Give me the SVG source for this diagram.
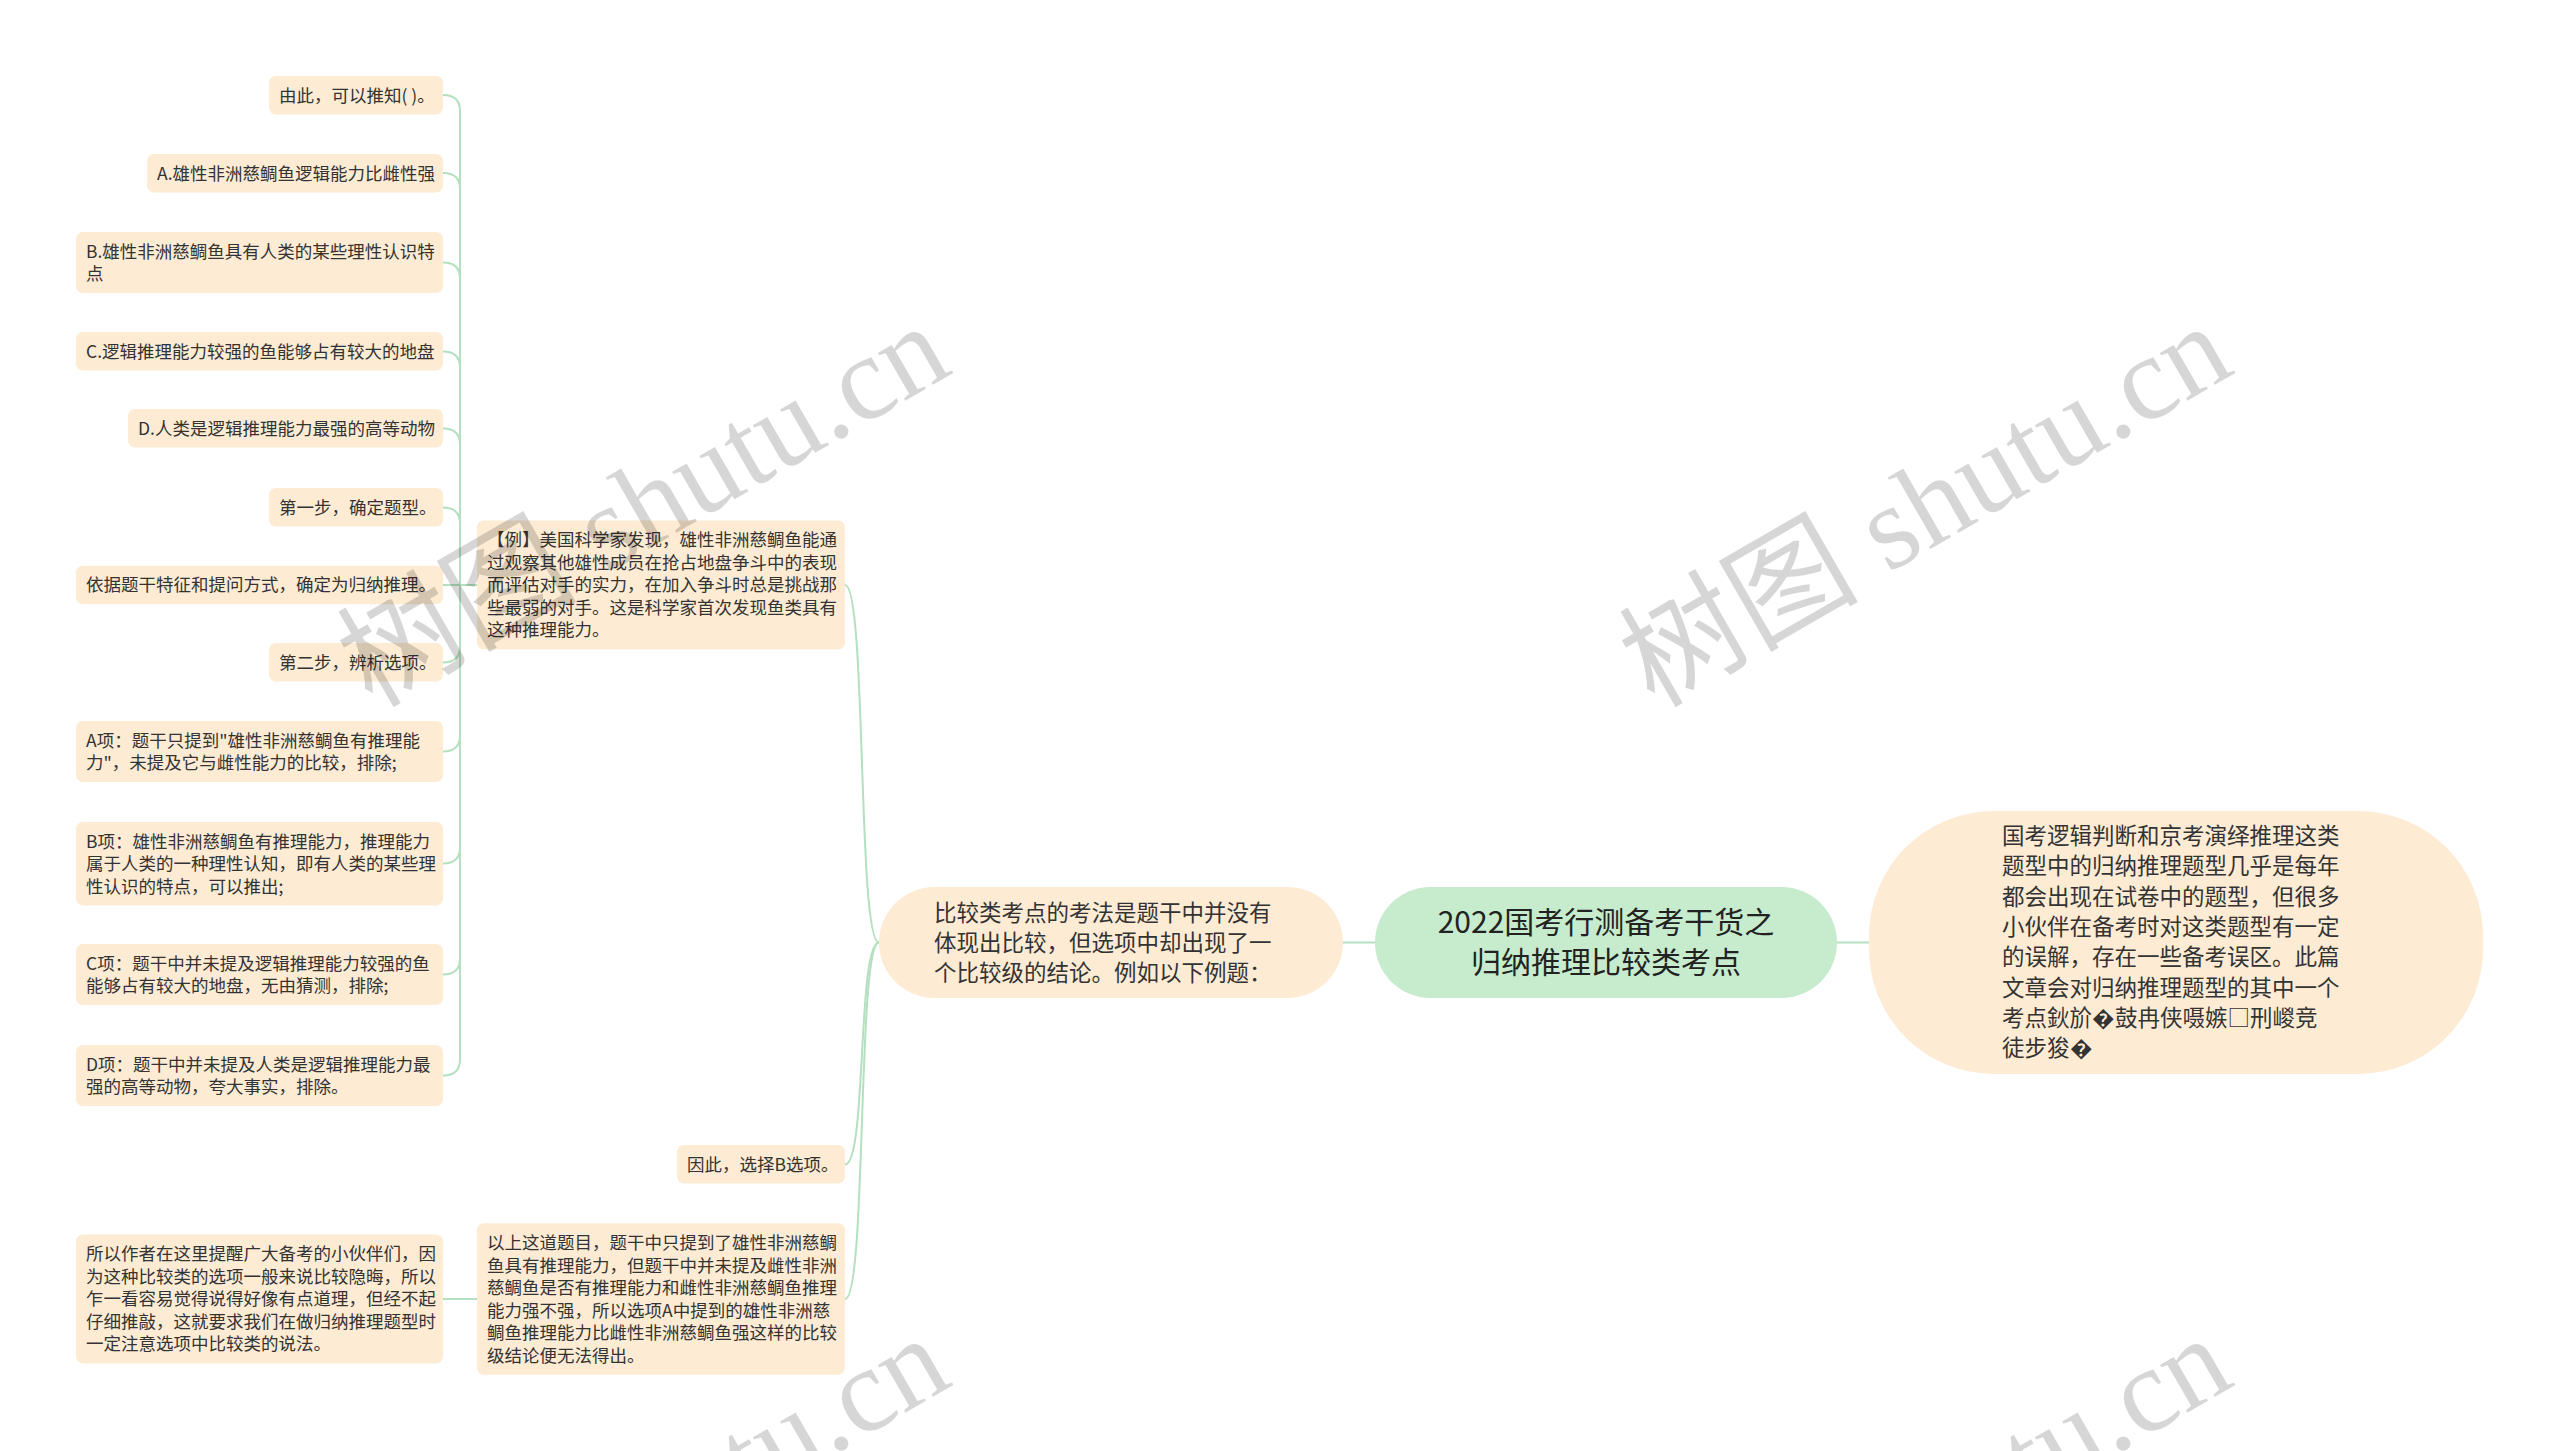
<svg xmlns="http://www.w3.org/2000/svg" width="2560" height="1451" viewBox="0 0 2560 1451">
<style>
text{font-family:"Noto Sans CJK SC","Liberation Sans",sans-serif;fill:#333}
.s{font-size:17.5px}
.m{font-size:22.5px}
.r{font-size:30px;fill:#222}
.box{fill:#fdebd3}
.root{fill:#c6ebcd}
.c{fill:none;stroke:#b4e0bf;stroke-width:2}
.wm{font-family:"Liberation Serif","Noto Sans CJK SC",serif;font-size:120px;fill:#000;fill-opacity:.16}
</style>
<rect width="2560" height="1451" fill="#fff"/>
<g id="connectors">
<path class="c" d="M477 585H460V111Q460 95 443 95"/>
<path class="c" d="M477 585H460V189Q460 173 443 173"/>
<path class="c" d="M477 585H460V278.5Q460 262.5 443 262.5"/>
<path class="c" d="M477 585H460V367.5Q460 351.5 443 351.5"/>
<path class="c" d="M477 585H460V444.5Q460 428.5 443 428.5"/>
<path class="c" d="M477 585H460V523.5Q460 507.5 443 507.5"/>
<path class="c" d="M477 585H443"/>
<path class="c" d="M477 585H460V646.5Q460 662.5 443 662.5"/>
<path class="c" d="M477 585H460V735.5Q460 751.5 443 751.5"/>
<path class="c" d="M477 585H460V847.5Q460 863.5 443 863.5"/>
<path class="c" d="M477 585H460V958.5Q460 974.5 443 974.5"/>
<path class="c" d="M477 585H460V1059.5Q460 1075.5 443 1075.5"/>
<path class="c" d="M477 1299H443"/>
<path class="c" d="M879 942.5C857 942.5 867 585 845 585"/>
<path class="c" d="M879 942.5C857 942.5 867 1164.5 845 1164.5"/>
<path class="c" d="M879 942.5C857 942.5 867 1299 845 1299"/>
<path class="c" d="M1375 942.5H1343"/>
<path class="c" d="M1837 942.5H1869"/>
</g>
<g id="root">
<rect class="root" x="1375" y="887" width="462" height="111" rx="55.5"/>
<text class="r" text-anchor="middle"><tspan x="1606" y="933.3">2022国考行测备考干货之</tspan><tspan x="1606" y="973.3">归纳推理比较类考点</tspan></text>
</g>
<g id="intro">
<rect class="box" x="1869" y="811" width="614" height="263" rx="125"/>
<text class="m"><tspan x="2002" y="844">国考逻辑判断和京考演绎推理这类</tspan><tspan x="2002" y="874.3">题型中的归纳推理题型几乎是每年</tspan><tspan x="2002" y="904.6">都会出现在试卷中的题型，但很多</tspan><tspan x="2002" y="934.9">小伙伴在备考时对这类题型有一定</tspan><tspan x="2002" y="965.2">的误解，存在一些备考误区。此篇</tspan><tspan x="2002" y="995.5">文章会对归纳推理题型的其中一个</tspan><tspan x="2002" y="1025.8">考点鈥斺�鼓冉侠嗫嫉□刑嵕竞</tspan><tspan x="2002" y="1056.1">徒步狻�</tspan></text>
</g>
<g id="branch">
<rect class="box" x="879" y="887" width="464" height="111" rx="55.5"/>
<text class="m"><tspan x="934" y="920.6">比较类考点的考法是题干中并没有</tspan><tspan x="934" y="950.6">体现出比较，但选项中却出现了一</tspan><tspan x="934" y="980.6">个比较级的结论。例如以下例题：</tspan></text>
</g>
<g id="example">
<rect class="box" x="477" y="520.5" width="368" height="129" rx="7"/>
<text class="s"><tspan x="487" y="546.3">【例】美国科学家发现，雄性非洲慈鲷鱼能通</tspan><tspan x="487" y="568.8">过观察其他雄性成员在抢占地盘争斗中的表现</tspan><tspan x="487" y="591.3">而评估对手的实力，在加入争斗时总是挑战那</tspan><tspan x="487" y="613.8">些最弱的对手。这是科学家首次发现鱼类具有</tspan><tspan x="487" y="636.3">这种推理能力。</tspan></text>
</g>
<g id="answer">
<rect class="box" x="677" y="1145" width="168" height="38.5" rx="7"/>
<text class="s" x="687" y="1170.5">因此，选择B选项。</text>
</g>
<g id="analysis">
<rect class="box" x="477" y="1223.25" width="368" height="151.5" rx="7"/>
<text class="s"><tspan x="487" y="1249">以上这道题目，题干中只提到了雄性非洲慈鲷</tspan><tspan x="487" y="1271.5">鱼具有推理能力，但题干中并未提及雌性非洲</tspan><tspan x="487" y="1294">慈鲷鱼是否有推理能力和雌性非洲慈鲷鱼推理</tspan><tspan x="487" y="1316.5">能力强不强，所以选项A中提到的雄性非洲慈</tspan><tspan x="487" y="1339">鲷鱼推理能力比雌性非洲慈鲷鱼强这样的比较</tspan><tspan x="487" y="1361.5">级结论便无法得出。</tspan></text>
</g>
<g id="leaf1">
<rect class="box" x="269" y="76" width="174" height="38.5" rx="7"/>
<text class="s" x="279" y="101.5">由此，可以推知( )。</text>
</g>
<g id="leaf2">
<rect class="box" x="147" y="154" width="296" height="38.5" rx="7"/>
<text class="s" x="157" y="179.5">A.雄性非洲慈鲷鱼逻辑能力比雌性强</text>
</g>
<g id="leaf3">
<rect class="box" x="76" y="232" width="367" height="61" rx="7"/>
<text class="s"><tspan x="86" y="257.5">B.雄性非洲慈鲷鱼具有人类的某些理性认识特</tspan><tspan x="86" y="280">点</tspan></text>
</g>
<g id="leaf4">
<rect class="box" x="76" y="332" width="367" height="38.5" rx="7"/>
<text class="s" x="86" y="357.5">C.逻辑推理能力较强的鱼能够占有较大的地盘</text>
</g>
<g id="leaf5">
<rect class="box" x="128" y="409" width="315" height="38.5" rx="7"/>
<text class="s" x="138" y="434.5">D.人类是逻辑推理能力最强的高等动物</text>
</g>
<g id="leaf6">
<rect class="box" x="269" y="488" width="174" height="38.5" rx="7"/>
<text class="s" x="279" y="513.5">第一步，确定题型。</text>
</g>
<g id="leaf7">
<rect class="box" x="76" y="565.75" width="367" height="38.5" rx="7"/>
<text class="s" x="86" y="591.3">依据题干特征和提问方式，确定为归纳推理。</text>
</g>
<g id="leaf8">
<rect class="box" x="269" y="643" width="174" height="38.5" rx="7"/>
<text class="s" x="279" y="668.5">第二步，辨析选项。</text>
</g>
<g id="leaf9">
<rect class="box" x="76" y="721" width="367" height="61" rx="7"/>
<text class="s"><tspan x="86" y="746.5">A项：题干只提到"雄性非洲慈鲷鱼有推理能</tspan><tspan x="86" y="769">力"，未提及它与雌性能力的比较，排除;</tspan></text>
</g>
<g id="leaf10">
<rect class="box" x="76" y="822" width="367" height="83.5" rx="7"/>
<text class="s"><tspan x="86" y="847.5">B项：雄性非洲慈鲷鱼有推理能力，推理能力</tspan><tspan x="86" y="870">属于人类的一种理性认知，即有人类的某些理</tspan><tspan x="86" y="892.5">性认识的特点，可以推出;</tspan></text>
</g>
<g id="leaf11">
<rect class="box" x="76" y="944" width="367" height="61" rx="7"/>
<text class="s"><tspan x="86" y="969.5">C项：题干中并未提及逻辑推理能力较强的鱼</tspan><tspan x="86" y="992">能够占有较大的地盘，无由猜测，排除;</tspan></text>
</g>
<g id="leaf12">
<rect class="box" x="76" y="1045" width="367" height="61" rx="7"/>
<text class="s"><tspan x="86" y="1070.5">D项：题干中并未提及人类是逻辑推理能力最</tspan><tspan x="86" y="1093">强的高等动物，夸大事实，排除。</tspan></text>
</g>
<g id="leaf13">
<rect class="box" x="76" y="1234.5" width="367" height="129" rx="7"/>
<text class="s"><tspan x="86" y="1260.3">所以作者在这里提醒广大备考的小伙伴们，因</tspan><tspan x="86" y="1282.8">为这种比较类的选项一般来说比较隐晦，所以</tspan><tspan x="86" y="1305.3">乍一看容易觉得说得好像有点道理，但经不起</tspan><tspan x="86" y="1327.8">仔细推敲，这就要求我们在做归纳推理题型时</tspan><tspan x="86" y="1350.3">一定注意选项中比较类的说法。</tspan></text>
</g>
<g id="watermark">
<text class="wm" text-anchor="end" x="955" y="372" transform="rotate(-30 955 372)">树图 shutu.cn</text>
<text class="wm" text-anchor="end" x="2237" y="372" transform="rotate(-30 2237 372)">树图 shutu.cn</text>
<text class="wm" text-anchor="end" x="955" y="1384" transform="rotate(-30 955 1384)">树图 shutu.cn</text>
<text class="wm" text-anchor="end" x="2237" y="1384" transform="rotate(-30 2237 1384)">树图 shutu.cn</text>
</g>
</svg>
